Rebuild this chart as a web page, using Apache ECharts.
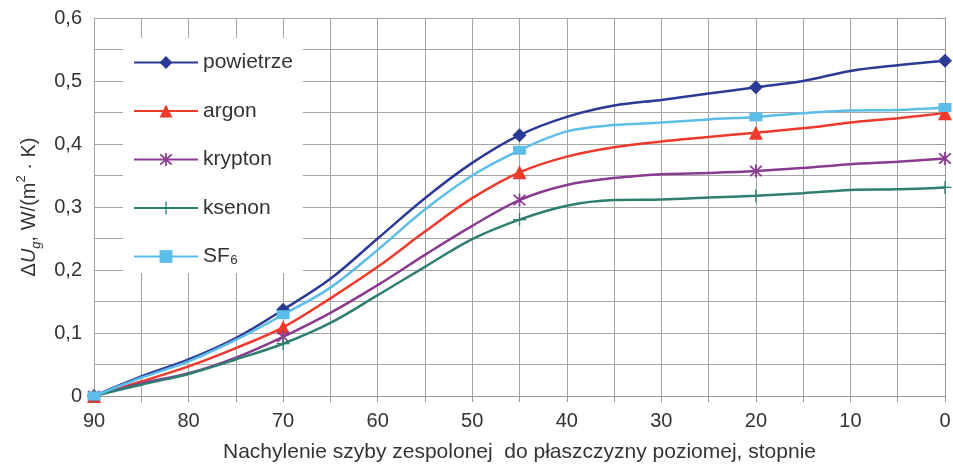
<!DOCTYPE html>
<html>
<head>
<meta charset="utf-8">
<script src="https://cdn.jsdelivr.net/npm/echarts@6/dist/echarts.min.js"></script>
<style>html,body{margin:0;padding:0;background:#fff}#c{width:953px;height:464px}</style>
</head>
<body>
<div id="c"></div>
<script>
const angles = [90,85,80,75,70,65,60,55,50,45,40,35,30,25,20,15,10,5,0];
const markerAngles = [90,70,45,20,0];
const powietrze = [0,0.031,0.058,0.092,0.137,0.186,0.25,0.314,0.37,0.414,0.443,0.461,0.47,0.48,0.49,0.5,0.516,0.525,0.532];
const argon     = [0,0.023,0.047,0.076,0.109,0.155,0.205,0.261,0.314,0.355,0.38,0.395,0.404,0.411,0.418,0.425,0.434,0.441,0.449];
const krypton   = [0,0.02,0.036,0.061,0.094,0.132,0.176,0.224,0.27,0.311,0.335,0.346,0.352,0.354,0.357,0.362,0.368,0.372,0.377];
const ksenon    = [0,0.018,0.035,0.058,0.083,0.116,0.16,0.205,0.249,0.28,0.302,0.311,0.312,0.315,0.318,0.322,0.327,0.328,0.331];
const sf6       = [0,0.029,0.055,0.089,0.129,0.172,0.232,0.296,0.35,0.39,0.42,0.43,0.434,0.439,0.443,0.449,0.453,0.454,0.458];
const seriesNames = ['powietrze','argon','krypton','ksenon','SF₆'];
const xTitle = 'Nachylenie szyby zespolonej  do płaszczyzny poziomej, stopnie';

const asterisk = 'path://M4.4,0h1.2v10h-1.2Z M0.6,1.45L1.45,0.6L9.4,8.55L8.55,9.4Z M8.55,0.6L9.4,1.45L1.45,9.4L0.6,8.55Z';
const plus = 'path://M4.5,0h1v10h-1Z M0,4.5h10v1h-10Z';

const styles = [
  {color:'#2B3A94', symbol:'diamond', size:14},
  {color:'#EE3A2C', symbol:'triangle', size:14},
  {color:'#8A3A91', symbol:asterisk, size:13},
  {color:'#2E7F70', symbol:plus, size:13},
  {color:'#5CBDE9', symbol:'rect', size:[13,9]}
];
const values = [powietrze, argon, krypton, ksenon, sf6];

function build(vals){
  return angles.map((a,i)=>{
    const item = {value:[a, vals[i]]};
    if(!markerAngles.includes(a)) item.symbol = 'none';
    return item;
  });
}

const series = values.map((vals,k)=>({
  name: seriesNames[k],
  type: 'line',
  smooth: 0.35,
  data: build(vals),
  symbol: styles[k].symbol,
  symbolSize: styles[k].size,
  showAllSymbol: true,
  color: styles[k].color,
  lineStyle: {width: 2.5, color: styles[k].color},
  itemStyle: {color: styles[k].color},
  z: 2 + k
}));

const F = 'Liberation Sans, Arial';
const chart = echarts.init(document.getElementById('c'), null, {renderer:'canvas'});
chart.setOption({
  animation: false,
  backgroundColor: '#fff',
  grid: {left: 94, right: 8, top: 18, bottom: 68, containLabel: false, outerBoundsMode: 'none'},
  legend: {
    orient: 'vertical',
    left: 123, top: 38,
    backgroundColor: '#fff',
    padding: [14, 10, 6, 10],
    itemWidth: 64, itemHeight: 16,
    itemGap: 27.5,
    data: seriesNames,
    textStyle: {fontFamily: F, fontSize: 21, color: '#333', lineHeight: 20},
    z: 10
  },
  xAxis: {
    type: 'value', min: 0, max: 90, interval: 10, inverse: true,
    axisLine: {show: true, lineStyle: {color: '#999', width: 1}},
    axisTick: {show: true, length: 6, lineStyle: {color: '#999'}},
    minorTick: {show: true, splitNumber: 2, length: 6, lineStyle: {color: '#999'}},
    splitLine: {show: true, lineStyle: {color: '#a5a5a5', width: 1}},
    minorSplitLine: {show: true, lineStyle: {color: '#a5a5a5', width: 1}},
    axisLabel: {fontFamily: F, fontSize: 20, color: '#333', margin: 15},
    name: xTitle, nameLocation: 'middle', nameGap: 46,
    nameTextStyle: {fontFamily: F, fontSize: 21, color: '#333'}
  },
  yAxis: {
    type: 'value', min: 0, max: 0.6, interval: 0.1,
    axisLine: {show: true, lineStyle: {color: '#999', width: 1}},
    axisTick: {show: true, length: 9, lineStyle: {color: '#999'}},
    minorTick: {show: true, splitNumber: 2, length: 3, lineStyle: {color: '#999'}},
    splitLine: {show: true, lineStyle: {color: '#a5a5a5', width: 1}},
    minorSplitLine: {show: true, lineStyle: {color: '#a5a5a5', width: 1}},
    axisLabel: {fontFamily: F, fontSize: 20, color: '#333', margin: 12,
      formatter: v => (Math.round(v*10)/10).toString().replace('.', ',')},
    name: '{d|Δ}{u|U}{s|g}{d|, W/(m}{p|2}{d| · K)}',
    nameLocation: 'middle', nameGap: 44, nameRotate: 90,
    nameTextStyle: {
      fontFamily: F, fontSize: 20, color: '#333',
      rich: {
        d: {fontFamily: F, fontSize: 20, color: '#333', lineHeight: 28, verticalAlign: 'middle'},
        u: {fontFamily: F, fontSize: 20, color: '#333', fontStyle: 'italic', lineHeight: 28, verticalAlign: 'middle'},
        s: {fontFamily: F, fontSize: 13, color: '#333', fontStyle: 'italic', lineHeight: 28, verticalAlign: 'bottom'},
        p: {fontFamily: F, fontSize: 13, color: '#333', lineHeight: 28, verticalAlign: 'top'}
      }
    }
  },
  series: series
});
</script>
</body>
</html>
